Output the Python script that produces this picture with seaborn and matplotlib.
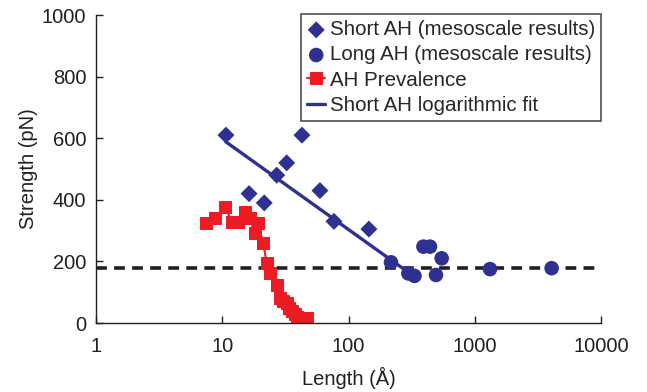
import numpy as np
import pandas as pd
import matplotlib
matplotlib.use("Agg")
import matplotlib.pyplot as plt
import seaborn as sns

# --- data ---
short_len = [10.7, 16.3, 21.5, 27.0, 32.4, 42.8, 59.4, 76.7, 145]
short_str = [610, 420, 390, 480, 520, 610, 430, 330, 305]

long_len = [217, 298, 333, 392, 442, 493, 547, 1321, 4064]
long_str = [197, 161, 153, 248, 248, 156, 210, 175, 178]

prev_len = [7.5, 8.8, 10.5, 11.9, 13.4, 15.1, 16.6, 18.1, 19.2, 21.1, 22.5,
            23.9, 27.0, 28.7, 30.5, 32.3, 34.0, 35.5, 37.5, 38.8, 41.0, 43.5, 46.6]
prev_val = [324, 342, 378, 329, 329, 361, 340, 291, 324, 259, 194,
            161, 123, 80, 70, 64, 50, 40, 30, 20, 5, 15, 15]

# logarithmic fit y = a*ln(x) + b, over the short AH range
fit_a = -127.3
fit_b = 889.7
fit_range = [10.7, 334]

threshold = 180

x_ticks = [1, 10, 100, 1000, 10000]
x_tick_labels = ["1", "10", "100", "1000", "10000"]
y_ticks = [0, 200, 400, 600, 800, 1000]

BLUE = "#2E3192"
RED = "#ED1C24"
INK = "#231F20"
FS = 14.5

sns.set_theme(style="white")
plt.rcParams["font.family"] = ["Liberation Sans", "DejaVu Sans"]

fig = plt.figure(figsize=(6.47, 3.92), dpi=100)
ax = fig.add_axes([0.1484, 0.176, 0.7805, 0.7857])

short_df = pd.DataFrame({"len": short_len, "str": short_str})
long_df = pd.DataFrame({"len": long_len, "str": long_str})
prev_df = pd.DataFrame({"len": prev_len, "val": prev_val})
fit_x = np.geomspace(fit_range[0], fit_range[1], 50)
fit_df = pd.DataFrame({"len": fit_x, "str": fit_a * np.log(fit_x) + fit_b})

ax.axhline(threshold, color=INK, lw=2.6, ls=(0, (3, 2)), zorder=1)

sns.lineplot(data=fit_df, x="len", y="str", ax=ax, color=BLUE, lw=2.4,
             label="Short AH logarithmic fit", zorder=3)
sns.lineplot(data=prev_df, x="len", y="val", ax=ax, color=RED, lw=1.5,
             marker="s", markersize=8.5, markeredgecolor=RED, sort=False,
             label="AH Prevalence", zorder=2)
sns.scatterplot(data=short_df, x="len", y="str", ax=ax, color=BLUE, marker="D",
                s=75, edgecolor="none", label="Short AH (mesoscale results)", zorder=4)
sns.scatterplot(data=long_df, x="len", y="str", ax=ax, color=BLUE, marker="o",
                s=110, edgecolor="none", label="Long AH (mesoscale results)", zorder=4)

ax.set_xscale("log")
ax.set_xlim(1, 10000)
ax.set_ylim(0, 1000)
ax.set_xticks(x_ticks)
ax.set_xticklabels(x_tick_labels)
ax.minorticks_off()
ax.set_yticks(y_ticks)
ax.set_xlabel("Length (Å)", fontsize=FS, color=INK, labelpad=8)
ax.set_ylabel("Strength (pN)", fontsize=FS, color=INK, labelpad=3)
ax.tick_params(axis="both", labelsize=FS, colors=INK, direction="in",
               length=5, width=1)
ax.tick_params(axis="x", bottom=True, pad=10)
ax.tick_params(axis="y", left=True, pad=7)

for side in ["top", "right"]:
    ax.spines[side].set_visible(False)
for side in ["left", "bottom"]:
    ax.spines[side].set_color(INK)
    ax.spines[side].set_linewidth(1)

handles, labels = ax.get_legend_handles_labels()
order = [labels.index(l) for l in ["Short AH (mesoscale results)",
                                   "Long AH (mesoscale results)",
                                   "AH Prevalence",
                                   "Short AH logarithmic fit"]]
leg = ax.legend([handles[i] for i in order], [labels[i] for i in order],
                loc="upper right", bbox_to_anchor=(1.0, 1.003), fontsize=14.8,
                frameon=True, fancybox=False, edgecolor=INK, markerscale=1.0,
                handlelength=0.9, handletextpad=0.2, borderpad=0.3,
                labelspacing=0.3, borderaxespad=0.0)
leg.get_frame().set_linewidth(1.2)

fig.savefig("out.png", dpi=100)
